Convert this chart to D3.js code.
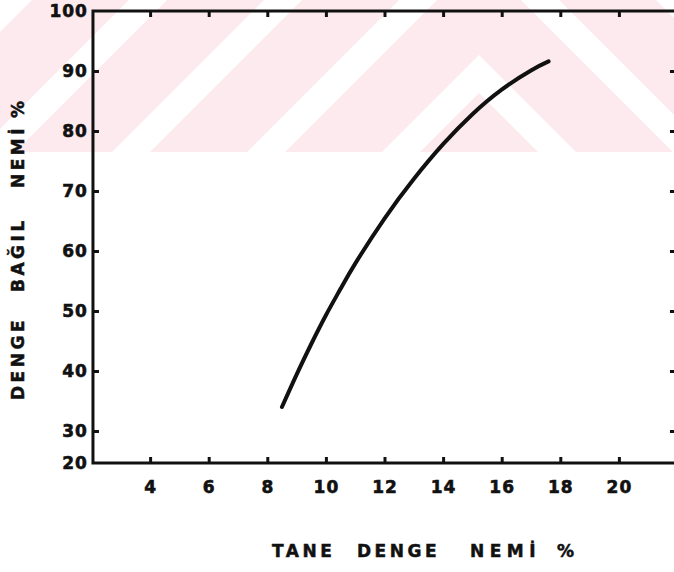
<!DOCTYPE html>
<html>
<head>
<meta charset="utf-8">
<script src="https://cdn.jsdelivr.net/npm/d3@7"></script>
<style>
  html, body { margin: 0; padding: 0; background: #fff; }
  svg { display: block; }
  text { font-family: "DejaVu Sans", "Liberation Sans", sans-serif; font-weight: bold; fill: #111; }
</style>
</head>
<body>
<svg id="chart" width="674" height="572"></svg>
<script>
// Equilibrium curve: grain moisture (%) vs equilibrium relative humidity (%)
const grainMoisture = [8.5, 9.0, 9.5, 10.0, 10.5, 11.0, 12.0, 13.0, 14.0, 15.0, 16.0, 17.0, 17.6];
const relHumidity   = [34.0, 39.4, 44.5, 49.3, 53.7, 57.9, 65.4, 72.0, 77.8, 82.8, 86.9, 90.1, 91.6];

const xTickValues = [4, 6, 8, 10, 12, 14, 16, 18, 20];
const yTickValues = [20, 30, 40, 50, 60, 70, 80, 90, 100];
const xTitleWords = ["TANE", "DENGE", "NEMİ", "%"];
const yTitleWords = ["DENGE", "BAĞIL", "NEMİ", "%"];

const svg = d3.select("#chart");
const W = 674, H = 572;

// Background chevron pattern in the top band
const bandBottom = 152, apexX = 479, bandW = 38, period = 135, firstApex = 55;
const defs = svg.append("defs");
defs.append("clipPath").attr("id", "bandClip")
  .append("rect").attr("x", 0).attr("y", 0).attr("width", W).attr("height", bandBottom);
const bg = svg.append("g").attr("clip-path", "url(#bandClip)");
bg.append("rect").attr("x", 0).attr("y", 0).attr("width", W).attr("height", bandBottom)
  .attr("fill", "#fdeaee");
const chevrons = d3.range(0, 5).map(k => firstApex - k * period);
bg.selectAll("path.chev").data(chevrons).join("path")
  .attr("class", "chev")
  .attr("fill", "#ffffff")
  .attr("d", u0 => {
    const B = bandBottom + 5;
    const outer = B - u0, inner = B - u0 - bandW;
    return `M${apexX - outer},${B} L${apexX},${u0} L${apexX + outer},${B}` +
           ` L${apexX + inner},${B} L${apexX},${u0 + bandW} L${apexX - inner},${B} Z`;
  });

// Scales: the vertical axis is compressed between 20 and 30
const x = d3.scaleLinear().domain([2, 22]).range([91.5, 677.5]);
const y = d3.scaleLinear().domain([20, 30, 100]).range([463, 431, 11]);

const frameL = x(2.05), frameR = x(22.05), frameT = y(100), frameB = y(20);

// Tick marks on all four sides (pointing inward)
const tickLen = 6;
const g = svg.append("g");

const labelStyle = sel => sel
  .attr("font-size", 17).attr("fill", "#111")
  .attr("stroke", "#111").attr("stroke-width", 0.6);

const axBottom = d3.axisBottom(x).tickValues(xTickValues).tickSize(-tickLen).tickPadding(16)
  .tickFormat(d3.format("d"));
const gb = g.append("g").attr("transform", `translate(0,${frameB})`).call(axBottom);
gb.select(".domain").remove();
gb.selectAll(".tick line").attr("stroke", "#111").attr("stroke-width", 3);
gb.selectAll(".tick text").call(labelStyle).attr("dy", "0.85em").attr("letter-spacing", 1);

const axTop = d3.axisTop(x).tickValues(xTickValues).tickSize(-tickLen).tickFormat("");
const gt = g.append("g").attr("transform", `translate(0,${frameT})`).call(axTop);
gt.select(".domain").remove();
gt.selectAll(".tick line").attr("stroke", "#111").attr("stroke-width", 3);

const axLeft = d3.axisLeft(y).tickValues(yTickValues).tickSize(0).tickPadding(5)
  .tickFormat(d3.format("d"));
const gl = g.append("g").attr("transform", `translate(${frameL},0)`).call(axLeft);
gl.select(".domain").remove();
gl.selectAll(".tick text").call(labelStyle).attr("letter-spacing", 1);
gl.selectAll(".tick").filter(d => d > 20 && d < 100).append("line")
  .attr("x1", 0).attr("x2", tickLen).attr("stroke", "#111").attr("stroke-width", 3);

const axRight = d3.axisRight(y).tickValues(yTickValues.filter(d => d > 20 && d < 100))
  .tickSize(-9).tickFormat("");
const gr = g.append("g").attr("transform", `translate(${frameR},0)`).call(axRight);
gr.select(".domain").remove();
gr.selectAll(".tick line").attr("stroke", "#111").attr("stroke-width", 3);

// Frame
g.append("rect")
  .attr("x", frameL).attr("y", frameT)
  .attr("width", frameR - frameL).attr("height", frameB - frameT)
  .attr("fill", "none").attr("stroke", "#111").attr("stroke-width", 3);

// Curve
const line = d3.line()
  .x((d, i) => x(grainMoisture[i]))
  .y(d => y(d))
  .curve(d3.curveNatural);
svg.append("path")
  .datum(relHumidity)
  .attr("d", line)
  .attr("fill", "none")
  .attr("stroke", "#111")
  .attr("stroke-width", 4)
  .attr("stroke-linecap", "round");

// Axis titles (wide-spaced words)
const xWordX = [272, 357, 470, 557];
const xWordLS = [3.5, 3.5, 5.5, 0];
svg.append("text")
  .attr("y", 557)
  .attr("font-size", 17)
  .attr("stroke", "#111").attr("stroke-width", 0.5)
  .selectAll("tspan").data(xTitleWords).join("tspan")
  .attr("x", (d, i) => xWordX[i])
  .attr("letter-spacing", (d, i) => xWordLS[i])
  .text(d => d);

const yWordStart = [400, 292, 188, 118];
svg.append("text")
  .attr("transform", "translate(24,0) rotate(-90)")
  .attr("font-size", 17)
  .attr("stroke", "#111").attr("stroke-width", 0.5)
  .selectAll("tspan").data(yTitleWords).join("tspan")
  .attr("x", (d, i) => -yWordStart[i])
  .attr("letter-spacing", 3.5)
  .text(d => d);
</script>
</body>
</html>
